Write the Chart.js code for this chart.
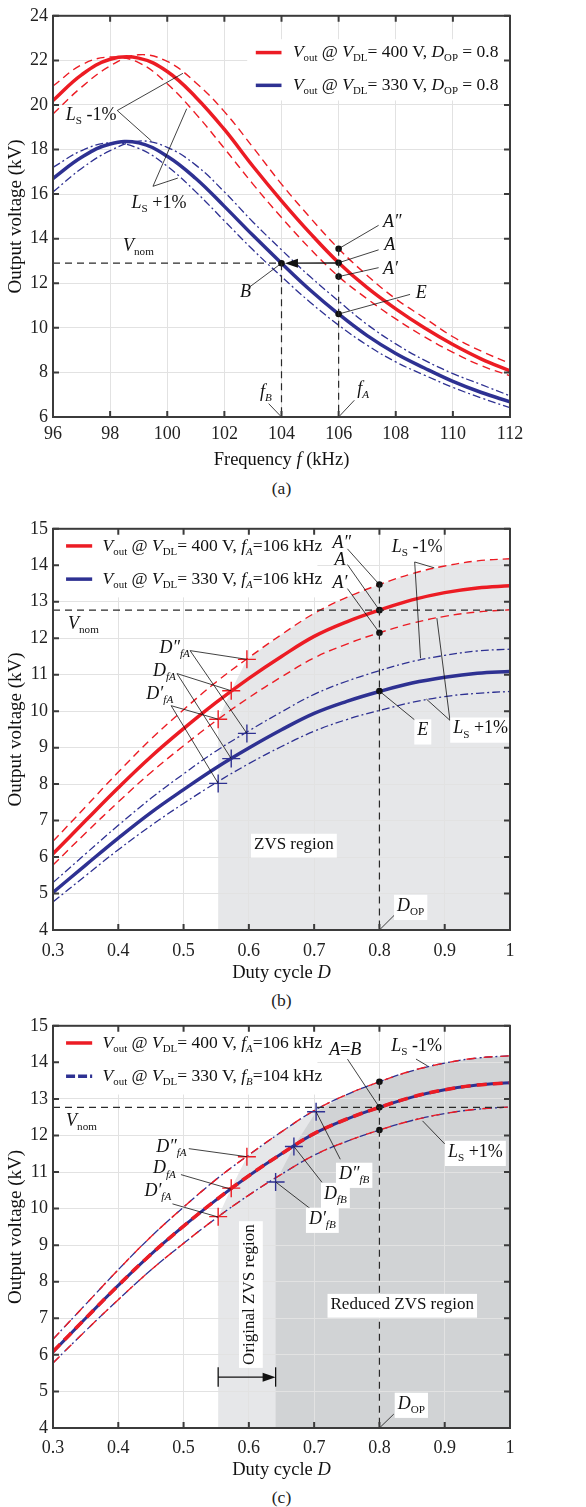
<!DOCTYPE html>
<html lang="en">
<head>
<meta charset="UTF-8">
<title>Output voltage vs. frequency and duty cycle</title>
<style>
  body { margin: 0; background: #fff; width: 586px; height: 1507px; position: relative; overflow: hidden;
         font-family: "Liberation Serif", "Times New Roman", serif; }
  .panel { position: absolute; left: 0; width: 586px; height: 472px; }
  .cap { position: absolute; left: 0; width: 563px; height: 20px; line-height: 20px; text-align: center; font-size: 17.5px; color: #222; }
</style>
<script src="https://cdn.jsdelivr.net/npm/chart.js"></script>
</head>
<body>
<div class="panel" style="top:0"><canvas id="chartA" width="586" height="472"></canvas></div>
<div class="cap" style="top:478px">(a)</div>
<div class="panel" style="top:513px"><canvas id="chartB" width="586" height="472"></canvas></div>
<div class="cap" style="top:990px">(b)</div>
<div class="panel" style="top:1010px"><canvas id="chartC" width="586" height="472"></canvas></div>
<div class="cap" style="top:1487px">(c)</div>

<script>
// ---- panel (a): output voltage vs switching frequency, D = 0.8 ----
const freq = [96, 97, 98, 99, 100, 101, 102, 103, 104, 105, 106, 107, 108, 109, 110, 111, 112];
const v400 = [20.2, 21.35, 22.05, 22.1, 21.5, 20.35, 18.9, 17.25, 15.7, 14.25, 12.92, 11.8, 10.85, 10.0, 9.25, 8.6, 8.07];
const v400LsM = [19.6, 20.8, 21.75, 22.25, 21.95, 21.0, 19.7, 18.1, 16.45, 14.95, 13.55, 12.35, 11.3, 10.45, 9.6, 8.95, 8.4];
const v400LsP = [20.85, 21.8, 22.15, 21.9, 20.95, 19.6, 18.05, 16.45, 14.95, 13.55, 12.3, 11.3, 10.4, 9.6, 8.9, 8.3, 7.85];
const v330 = [16.7, 17.65, 18.25, 18.3, 17.7, 16.7, 15.45, 14.15, 12.9, 11.7, 10.62, 9.65, 8.85, 8.2, 7.6, 7.1, 6.68];
const v330LsM = [16.1, 17.15, 17.95, 18.38, 18.1, 17.3, 16.1, 14.75, 13.5, 12.3, 11.2, 10.15, 9.28, 8.55, 7.95, 7.45, 6.95];
const v330LsP = [17.2, 17.95, 18.3, 18.05, 17.25, 16.1, 14.8, 13.5, 12.3, 11.15, 10.12, 9.22, 8.47, 7.88, 7.33, 6.85, 6.42];
const ptsFreq = [106, 106, 106, 106, 104];           // A'', A, A', E, B
const ptsVolt = [13.55, 12.92, 12.3, 10.62, 12.9];
const xTicksA = [96, 98, 100, 102, 104, 106, 108, 110, 112];
const yTicksA = [6, 8, 10, 12, 14, 16, 18, 20, 22, 24];

// ---- panels (b) and (c): output voltage vs duty cycle ----
const duty = [0.30, 0.35, 0.40, 0.45, 0.50, 0.55, 0.60, 0.65, 0.70, 0.75, 0.80, 0.85, 0.90, 0.95, 1.00];
const d400 = [6.09, 7.0, 7.9, 8.75, 9.52, 10.24, 10.9, 11.5, 12.05, 12.45, 12.77, 13.05, 13.25, 13.38, 13.44];
const d400LsM = [6.43, 7.38, 8.33, 9.23, 10.04, 10.8, 11.47, 12.1, 12.68, 13.12, 13.47, 13.77, 13.98, 14.12, 14.18];
const d400LsP = [5.78, 6.66, 7.51, 8.32, 9.05, 9.74, 10.37, 10.94, 11.46, 11.84, 12.15, 12.41, 12.6, 12.72, 12.78];
const d330 = [5.03, 5.78, 6.52, 7.22, 7.85, 8.45, 8.99, 9.49, 9.94, 10.27, 10.54, 10.77, 10.93, 11.04, 11.09];
const d330LsM = [5.3, 6.09, 6.87, 7.61, 8.28, 8.91, 9.46, 9.98, 10.46, 10.82, 11.11, 11.36, 11.53, 11.65, 11.7];
const d330LsP = [4.77, 5.49, 6.2, 6.86, 7.47, 8.04, 8.56, 9.03, 9.45, 9.77, 10.02, 10.24, 10.4, 10.49, 10.54];
// (c): 330 V at fB = 104 kHz lands on the 400 V curves
const c330 = [6.08, 7.0, 7.9, 8.75, 9.52, 10.24, 10.9, 11.5, 12.05, 12.45, 12.77, 13.05, 13.25, 13.38, 13.44];
const c330LsM = [6.43, 7.38, 8.33, 9.23, 10.04, 10.8, 11.47, 12.1, 12.68, 13.12, 13.47, 13.77, 13.98, 14.12, 14.18];
const c330LsP = [5.78, 6.66, 7.51, 8.32, 9.05, 9.74, 10.37, 10.94, 11.46, 11.84, 12.15, 12.41, 12.6, 12.72, 12.78];
const zvsDutyA = [0.553, 0.573, 0.597];              // D'fA, DfA, D''fA
const zvsRedA = [9.78, 10.56, 11.42];
const zvsBlueA = [8.02, 8.7, 9.39];
const zvsDutyB = [0.641, 0.669, 0.703];              // D'fB, DfB, D''fB
const zvsVoltB = [10.73, 11.7, 12.65];
const opDuty = [0.8, 0.8, 0.8];                       // A'', A, A'
const opVolt = [13.47, 12.77, 12.15];
const eDuty = [0.8], eVolt = [10.55];
const xTicksD = [0.3, 0.4, 0.5, 0.6, 0.7, 0.8, 0.9, 1.0];
const yTicksD = [4, 5, 6, 7, 8, 9, 10, 11, 12, 13, 14, 15];

const RED = '#ec1c24', BLUE = '#2e3192', GRID = '#e2e2e2';
const FONT = '"Liberation Serif", "Times New Roman", serif';

const xy = (xs, ys) => xs.map((x, i) => ({ x: x, y: ys[i] }));

function curve(xs, ys, color, width, dash) {
    return { data: xy(xs, ys), borderColor: color, borderWidth: width, borderDash: dash || [],
             pointRadius: 0, tension: 0.4, fill: false };
}
function marks(xs, ys, color, style) {
    if (style === 'cross') {
        return { data: xy(xs, ys), showLine: false, pointStyle: 'cross', pointRadius: 9,
                 pointBorderColor: color, pointBorderWidth: 1.4, pointBackgroundColor: color };
    }
    return { data: xy(xs, ys), showLine: false, pointRadius: 3.3, pointBorderWidth: 0,
             pointBackgroundColor: '#111' };
}

// text with italic parts and subscripts: i = italic, r = roman, I = italic sub, R = roman sub
function rich(ctx, x, y, parts, o) {
    o = o || {};
    const size = o.size || 18;
    const segs = parts.map(([t, s]) => {
        const sub = s === 'I' || s === 'R';
        const font = ((s === 'i' || s === 'I') ? 'italic ' : '') + (sub ? size * 0.62 : size) + 'px ' + FONT;
        ctx.font = font;
        return { t: t, font: font, dy: sub ? size * 0.33 : 0, w: ctx.measureText(t).width };
    });
    const total = segs.reduce((a, s) => a + s.w, 0);
    let cx = o.align === 'center' ? x - total / 2 : x;
    if (o.bg) {
        ctx.fillStyle = '#fff';
        ctx.fillRect(cx - 3, y - size * 0.62, total + 6, size * 1.4);
    }
    ctx.fillStyle = '#111';
    ctx.textBaseline = 'middle';
    ctx.textAlign = 'left';
    segs.forEach(s => { ctx.font = s.font; ctx.fillText(s.t, cx, y + s.dy); cx += s.w; });
}

function drawSpec(c, spec) {
    const ctx = c.ctx;
    const X = v => c.scales.x.getPixelForValue(v), Y = v => c.scales.y.getPixelForValue(v);
    ctx.save();
    if (spec.legend) {
        const L = spec.legend;
        ctx.fillStyle = '#fff';
        ctx.fillRect(X(L.box[0]), Y(L.box[1]), X(L.box[2]) - X(L.box[0]), Y(L.box[3]) - Y(L.box[1]));
        L.rows.forEach(r => {
            ctx.strokeStyle = r.color; ctx.lineWidth = 3.5; ctx.setLineDash(r.dash || []);
            ctx.beginPath(); ctx.moveTo(X(L.line[0]), Y(r.y)); ctx.lineTo(X(L.line[1]), Y(r.y)); ctx.stroke();
            ctx.setLineDash([]);
            rich(ctx, X(L.text), Y(r.y), r.p, { size: 17.5 });
        });
    }
    ctx.strokeStyle = '#2a2a2a'; ctx.lineWidth = 1.2; ctx.setLineDash([7, 5]);
    spec.guides.forEach(g => { ctx.beginPath(); ctx.moveTo(X(g[0]), Y(g[1])); ctx.lineTo(X(g[2]), Y(g[3])); ctx.stroke(); });
    ctx.setLineDash([]);
    ctx.strokeStyle = '#111'; ctx.lineWidth = 0.8;
    spec.leaders.forEach(([f, ...tos]) => tos.forEach(t => {
        ctx.beginPath(); ctx.moveTo(X(f[0]), Y(f[1])); ctx.lineTo(X(t[0]), Y(t[1])); ctx.stroke();
    }));
    (spec.arrows || []).forEach(a => {
        const x1 = X(a[0]), y1 = Y(a[1]), x2 = X(a[2]), y2 = Y(a[3]);
        const dir = Math.sign(x2 - x1);
        ctx.lineWidth = a[4] || 1.3; ctx.strokeStyle = '#111'; ctx.fillStyle = '#111';
        ctx.beginPath(); ctx.moveTo(x1, y1); ctx.lineTo(x2 - dir * 8, y2); ctx.stroke();
        ctx.beginPath(); ctx.moveTo(x2, y2); ctx.lineTo(x2 - dir * 13, y2 - 4.5); ctx.lineTo(x2 - dir * 13, y2 + 4.5);
        ctx.closePath(); ctx.fill();
    });
    (spec.bars || []).forEach(b => {
        ctx.lineWidth = 1.3; ctx.strokeStyle = '#111';
        ctx.beginPath(); ctx.moveTo(X(b[0]), Y(b[1])); ctx.lineTo(X(b[0]), Y(b[2])); ctx.stroke();
    });
    spec.labels.forEach(l => {
        if (l.rot) {
            ctx.save(); ctx.translate(X(l.x), Y(l.y)); ctx.rotate(-Math.PI / 2);
            rich(ctx, 0, 0, l.p, { align: 'center', bg: l.bg, size: l.size });
            ctx.restore();
        } else {
            rich(ctx, X(l.x), Y(l.y), l.p, l);
        }
    });
    ctx.restore();
}

function drawFrame(c, xTicks, yTicks, xTitle) {
    const ctx = c.ctx, a = c.chartArea;
    ctx.save();
    ctx.strokeStyle = '#3b3b3b'; ctx.lineWidth = 2;
    ctx.strokeRect(a.left, a.top, a.right - a.left, a.bottom - a.top);
    ctx.beginPath();
    xTicks.forEach(v => {
        const p = c.scales.x.getPixelForValue(v);
        ctx.moveTo(p, a.bottom); ctx.lineTo(p, a.bottom - 6);
        ctx.moveTo(p, a.top); ctx.lineTo(p, a.top + 6);
    });
    yTicks.forEach(v => {
        const p = c.scales.y.getPixelForValue(v);
        ctx.moveTo(a.left, p); ctx.lineTo(a.left + 6, p);
        ctx.moveTo(a.right, p); ctx.lineTo(a.right - 6, p);
    });
    ctx.stroke();
    rich(ctx, (a.left + a.right) / 2, 460, xTitle, { align: 'center', size: 18.5 });
    ctx.translate(16, (a.top + a.bottom) / 2); ctx.rotate(-Math.PI / 2);
    rich(ctx, 0, 0, [['Output voltage (kV)', 'r']], { align: 'center', size: 19 });
    ctx.restore();
}

// filled region: vertical edge at the first duty value, boundary points, then along the top curve
function region(c, bx, by, topX, topY, color) {
    const ctx = c.ctx;
    const X = v => c.scales.x.getPixelForValue(v), Y = v => c.scales.y.getPixelForValue(v);
    const ymin = c.scales.y.min;
    ctx.save(); ctx.fillStyle = color; ctx.beginPath();
    ctx.moveTo(X(bx[0]), Y(ymin));
    bx.forEach((x, i) => ctx.lineTo(X(x), Y(by[i])));
    topX.forEach((x, i) => { if (x > bx[bx.length - 1] + 0.02) ctx.lineTo(X(x), Y(topY[i])); });
    ctx.lineTo(X(topX[topX.length - 1]), Y(ymin));
    ctx.closePath(); ctx.fill(); ctx.restore();
}

function options(xr, yr, xTicks, yTicks, fmt, xHeight, tickPad) {
    return {
        responsive: false, animation: false, events: [],
        layout: { padding: { left: 0, right: 76, top: 13, bottom: 0 } },
        plugins: { legend: { display: false }, tooltip: { enabled: false } },
        scales: {
            x: {
                type: 'linear', min: xr[0], max: xr[1],
                afterBuildTicks: s => { s.ticks = xTicks.map(v => ({ value: v })); },
                afterFit: s => { s.height = xHeight; },
                grid: { color: GRID, lineWidth: 1, drawTicks: false }, border: { display: false },
                ticks: { font: { family: FONT, size: 18 }, color: '#222', padding: tickPad,
                         autoSkip: false, maxRotation: 0, callback: fmt }
            },
            y: {
                type: 'linear', min: yr[0], max: yr[1],
                afterBuildTicks: s => { s.ticks = yTicks.map(v => ({ value: v })); },
                afterFit: s => { s.width = 53; },
                grid: { color: GRID, lineWidth: 1, drawTicks: false }, border: { display: false },
                ticks: { font: { family: FONT, size: 18 }, color: '#222', padding: 5, autoSkip: false }
            }
        }
    };
}

const dutyFmt = v => (v === 1 ? '1' : v.toFixed(1));
const ls = s => [['L', 'i'], ['S', 'R'], [s, 'r']];
const vnom = [['V', 'i'], ['nom', 'R']];
const dLab = (pr, sub) => [['D' + pr, 'i'], [sub, 'I']];
const dop = [['D', 'i'], ['OP', 'R']];
const DASH = [8, 5], DASHDOT = [8, 3, 2, 3];

// ---------- chart (a) ----------
const specA = {
    legend: {
        box: [102.8, 22.95, 111.9, 20.2], line: [103.1, 104.0], text: 104.4,
        rows: [
            { y: 22.35, color: RED, p: [['V', 'i'], ['out', 'R'], [' @ ', 'r'], ['V', 'i'], ['DL', 'R'], ['= 400 V, ', 'r'], ['D', 'i'], ['OP', 'R'], [' = 0.8', 'r']] },
            { y: 20.88, color: BLUE, p: [['V', 'i'], ['out', 'R'], [' @ ', 'r'], ['V', 'i'], ['DL', 'R'], ['= 330 V, ', 'r'], ['D', 'i'], ['OP', 'R'], [' = 0.8', 'r']] }
        ]
    },
    guides: [[96, 12.9, 104, 12.9], [104, 12.9, 104, 6], [106, 13.55, 106, 6]],
    arrows: [[106, 12.91, 104.12, 12.9]],
    leaders: [
        [[107.4, 14.6], [106, 13.55]], [[107.4, 13.5], [106, 12.92]], [[107.4, 12.7], [106, 12.3]],
        [[108.5, 11.5], [106, 10.62]], [[102.9, 11.85], [104, 12.9]],
        [[103.55, 6.6], [104, 6]], [[106.55, 6.75], [106, 6]],
        [[98.25, 19.75], [100.55, 21.42], [99.45, 18.38]],
        [[99.5, 16.35], [100.68, 19.83], [100.37, 16.72]]
    ],
    labels: [
        { x: 107.55, y: 14.75, p: [['A\u2033', 'i']] }, { x: 107.6, y: 13.7, p: [['A', 'i']] },
        { x: 107.55, y: 12.65, p: [['A\u2032', 'i']] }, { x: 108.7, y: 11.55, p: [['E', 'i']] },
        { x: 102.55, y: 11.6, p: [['B', 'i']] }, { x: 98.45, y: 13.65, p: vnom },
        { x: 103.25, y: 7.1, p: [['f', 'i'], ['B', 'I']] }, { x: 106.65, y: 7.25, p: [['f', 'i'], ['A', 'I']] },
        { x: 96.45, y: 19.55, p: ls(' -1%') }, { x: 98.75, y: 15.6, p: ls(' +1%') }
    ]
};

new Chart(document.getElementById('chartA'), {
    type: 'line',
    data: { datasets: [
        marks(ptsFreq, ptsVolt, '#111', 'dot'),
        curve(freq, v400, RED, 3.5), curve(freq, v330, BLUE, 3.5),
        curve(freq, v400LsM, RED, 1.4, DASH), curve(freq, v400LsP, RED, 1.4, DASH),
        curve(freq, v330LsM, BLUE, 1.3, DASHDOT), curve(freq, v330LsP, BLUE, 1.3, DASHDOT)
    ] },
    options: options([96, 112], [6, 24], xTicksA, yTicksA, v => v, 55, 6),
    plugins: [{
        id: 'annA',
        afterDraw: c => {
            drawSpec(c, specA);
            drawFrame(c, xTicksA, yTicksA, [['Frequency ', 'r'], ['f', 'i'], [' (kHz)', 'r']]);
        }
    }]
});

// ---------- chart (b) ----------
const legendBC = (fTxt2, fSub2, blueDash) => ({
    box: [0.302, 14.96, 0.705, 13.12], line: [0.32, 0.36], text: 0.376,
    rows: [
        { y: 14.53, color: RED, p: [['V', 'i'], ['out', 'R'], [' @ ', 'r'], ['V', 'i'], ['DL', 'R'], ['= 400 V, ', 'r'], ['f', 'i'], ['A', 'I'], ['=106 kHz', 'r']] },
        { y: 13.62, color: BLUE, dash: blueDash, p: [['V', 'i'], ['out', 'R'], [' @ ', 'r'], ['V', 'i'], ['DL', 'R'], ['= 330 V, ', 'r'], ['f', 'i'], [fSub2, 'I'], [fTxt2, 'r']] }
    ]
});

const specB = {
    legend: legendBC('=106 kHz', 'A'),
    guides: [[0.3, 12.77, 1, 12.77], [0.8, 13.47, 0.8, 4]],
    leaders: [
        [[0.751, 14.45], [0.8, 13.47]], [[0.751, 14.02], [0.8, 12.77]], [[0.751, 13.36], [0.8, 12.15]],
        [[0.854, 14.09], [0.884, 13.93], [0.863, 11.45]],
        [[0.908, 9.75], [0.888, 12.55], [0.872, 10.33]],
        [[0.854, 9.76], [0.8, 10.55]],
        [[0.51, 11.66], [0.597, 11.42], [0.597, 9.39]],
        [[0.49, 11.03], [0.573, 10.56], [0.573, 8.7]],
        [[0.481, 10.15], [0.553, 9.78], [0.553, 8.02]],
        [[0.8, 4], [0.823, 4.41]]
    ],
    labels: [
        { x: 0.728, y: 14.59, p: [['A\u2033', 'i']] }, { x: 0.731, y: 14.14, p: [['A', 'i']] },
        { x: 0.728, y: 13.52, p: [['A\u2032', 'i']] },
        { x: 0.819, y: 14.5, p: ls(' -1%') }, { x: 0.913, y: 9.52, p: ls(' +1%'), bg: true },
        { x: 0.858, y: 9.47, p: [['E', 'i']], bg: true }, { x: 0.323, y: 12.39, p: vnom },
        { x: 0.463, y: 11.73, p: dLab('\u2033', 'fA') }, { x: 0.453, y: 11.1, p: dLab('', 'fA') },
        { x: 0.443, y: 10.47, p: dLab('\u2032', 'fA') },
        { x: 0.669, y: 6.35, p: [['ZVS region', 'r']], align: 'center', bg: true, size: 17 },
        { x: 0.827, y: 4.66, p: dop, bg: true }
    ]
};

new Chart(document.getElementById('chartB'), {
    type: 'line',
    data: { datasets: [
        marks(opDuty, opVolt, '#111', 'dot'), marks(eDuty, eVolt, '#111', 'dot'),
        marks(zvsDutyA, zvsRedA, RED, 'cross'), marks(zvsDutyA, zvsBlueA, BLUE, 'cross'),
        curve(duty, d400, RED, 3.5), curve(duty, d330, BLUE, 3.5),
        curve(duty, d400LsM, RED, 1.4, DASH), curve(duty, d400LsP, RED, 1.4, DASH),
        curve(duty, d330LsM, BLUE, 1.3, DASHDOT), curve(duty, d330LsP, BLUE, 1.3, DASHDOT)
    ] },
    options: options([0.3, 1], [4, 15], xTicksD, yTicksD, dutyFmt, 55, 10),
    plugins: [{
        id: 'annB',
        beforeDraw: c => region(c, zvsDutyA, zvsRedA, duty, d400LsM, '#e6e7e9'),
        afterDraw: c => {
            drawSpec(c, specB);
            drawFrame(c, xTicksD, yTicksD, [['Duty cycle ', 'r'], ['D', 'i']]);
        }
    }]
});

// ---------- chart (c) ----------
const specC = {
    legend: legendBC('=104 kHz', 'B', [9, 3]),
    guides: [[0.3, 12.77, 1, 12.77], [0.8, 13.47, 0.8, 4]],
    arrows: [[0.553, 5.39, 0.641, 5.39, 1.2]],
    bars: [[0.553, 5.13, 5.66], [0.641, 5.13, 5.66]],
    leaders: [
        [[0.751, 14.09], [0.8, 12.77]],
        [[0.856, 14.09], [0.874, 13.9]],
        [[0.9, 11.77], [0.866, 12.4]],
        [[0.508, 11.64], [0.597, 11.42]], [[0.496, 10.93], [0.573, 10.53]], [[0.483, 10.13], [0.553, 9.77]],
        [[0.74, 11.35], [0.703, 12.65]], [[0.712, 10.72], [0.669, 11.7]], [[0.694, 10.0], [0.641, 10.73]],
        [[0.8, 4], [0.822, 4.38]]
    ],
    labels: [
        { x: 0.723, y: 14.32, p: [['A', 'i'], ['=', 'r'], ['B', 'i']] },
        { x: 0.818, y: 14.45, p: ls(' -1%') }, { x: 0.905, y: 11.55, p: ls(' +1%'), bg: true },
        { x: 0.32, y: 12.4, p: vnom },
        { x: 0.458, y: 11.68, p: dLab('\u2033', 'fA') }, { x: 0.453, y: 11.09, p: dLab('', 'fA') },
        { x: 0.44, y: 10.47, p: dLab('\u2032', 'fA') },
        { x: 0.738, y: 10.95, p: dLab('\u2033', 'fB'), bg: true },
        { x: 0.715, y: 10.4, p: dLab('', 'fB'), bg: true },
        { x: 0.692, y: 9.72, p: dLab('\u2032', 'fB'), bg: true },
        { x: 0.601, y: 7.65, p: [['Original ZVS region', 'r']], rot: true, bg: true, size: 17 },
        { x: 0.835, y: 7.38, p: [['Reduced ZVS region', 'r']], align: 'center', bg: true, size: 17 },
        { x: 0.828, y: 4.66, p: dop, bg: true }
    ]
};

new Chart(document.getElementById('chartC'), {
    type: 'line',
    data: { datasets: [
        marks(opDuty, opVolt, '#111', 'dot'),
        marks(zvsDutyA, zvsRedA, RED, 'cross'), marks(zvsDutyB, zvsVoltB, BLUE, 'cross'),
        curve(duty, d400, RED, 3.6, [10, 6]), curve(duty, c330, BLUE, 3),
        curve(duty, d400LsM, RED, 1.4, [9, 8]), curve(duty, d400LsP, RED, 1.4, [9, 8]),
        curve(duty, c330LsM, BLUE, 1.3, DASHDOT), curve(duty, c330LsP, BLUE, 1.3, DASHDOT)
    ] },
    options: options([0.3, 1], [4, 15], xTicksD, yTicksD, dutyFmt, 54, 9),
    plugins: [{
        id: 'annC',
        beforeDraw: c => {
            region(c, zvsDutyA, zvsRedA, duty, d400LsM, '#e6e7e9');
            region(c, zvsDutyB, zvsVoltB, duty, d400LsM, '#d1d3d5');
        },
        afterDraw: c => {
            drawSpec(c, specC);
            drawFrame(c, xTicksD, yTicksD, [['Duty cycle ', 'r'], ['D', 'i']]);
        }
    }]
});
</script>
</body>
</html>
